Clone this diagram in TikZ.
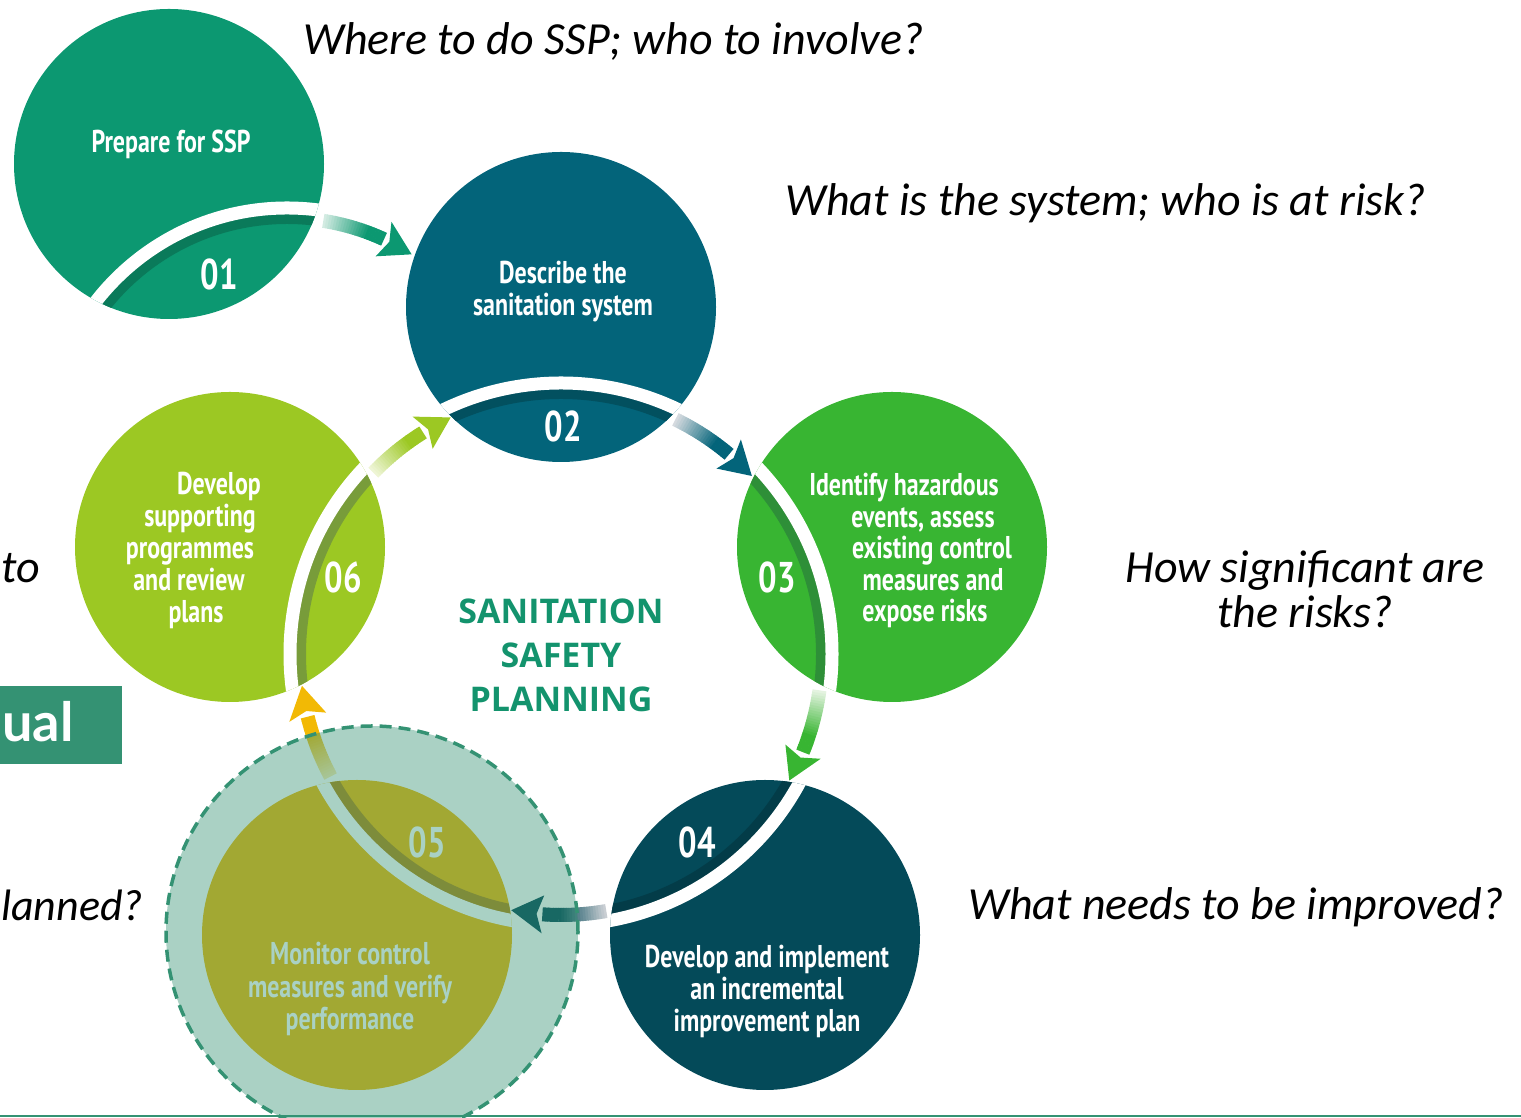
\documentclass[tikz,border=0pt]{standalone}
\usepackage{fontspec}
\setmainfont{Carlito}
\newfontfamily\askfont{Carlito}
\newfontfamily\stepfont[FakeStretch=0.76]{PT Sans}
\newfontfamily\titlefont{Open Sans}
\newfontfamily\tabfont{Lato}
\usetikzlibrary{calc}

% step colours and their darker stripes
\definecolor{c1}{HTML}{0C9871}
\definecolor{c1s}{HTML}{0A7A5A}
\definecolor{c2}{HTML}{03647A}
\definecolor{c2s}{HTML}{02505F}
\definecolor{c3}{HTML}{38B532}
\definecolor{c3s}{HTML}{2E8F38}
\definecolor{c4}{HTML}{044A59}
\definecolor{c4s}{HTML}{033C48}
\definecolor{c5}{HTML}{F2B905}
\definecolor{c5s}{HTML}{B28814}
\definecolor{c6}{HTML}{9CC823}
\definecolor{c6s}{HTML}{789C3A}
% pale tails of the arrows
\definecolor{p1}{HTML}{D3EBE2}
\definecolor{p2}{HTML}{D5DADF}
\definecolor{p3}{HTML}{E4F3E0}
\definecolor{p4}{HTML}{C9CED3}
\definecolor{p5}{HTML}{FBEAB0}
\definecolor{p6}{HTML}{EEF5D5}
\definecolor{ssp}{HTML}{13936D}
\definecolor{veil}{HTML}{349273}

% gradient arrow running clockwise along a circle
% #1 centre, #2 radius, #3 tail angle, #4 tip angle, #5 pale colour, #6 full colour
\newcommand\flowarrow[6]{%
  \pgfmathsetmacro\hd{32/#2*57.2958}%
  \pgfmathsetmacro\hb{#4+\hd}%
  \pgfmathsetmacro\hn{#4+0.8*\hd}%
  \pgfmathsetmacro\ro{#2+19}%
  \pgfmathsetmacro\ri{#2-19}%
  \foreach \k in {0,...,23}{%
    \pgfmathsetmacro\angA{#3+(\hb-(#3))*\k/24}%
    \pgfmathsetmacro\angB{#3+(\hb-(#3))*(\k+1.2)/24}%
    \pgfmathtruncatemacro\pc{min(100,\k*100/17)}%
    \draw[line width=14pt, #6!\pc!#5] ($(#1)+(\angA:#2)$) arc[start angle=\angA, end angle=\angB, radius=#2];
  }%
  \fill[#6] ($(#1)+(\hb:\ro)$) -- ($(#1)+(#4:#2)$) -- ($(#1)+(\hb:\ri)$) -- ($(#1)+(\hn:#2)$) -- cycle;
}

% one step disc, cut by the white band of the cycle
% #1 name, #2 position, #3 colour, #4 stripe colour, #5 band centre, #6 band radius
\newcommand\stepdisc[6]{%
  \node[disc, fill=#3] (#1) at (#2) {};
  \pgfmathsetmacro\rs{#6-11}%
  \begin{scope}
    \clip (#2) circle (155);
    \draw[#4, line width=10pt] (#5) circle (\rs);
    \draw[white, line width=13pt] (#5) circle (#6);
  \end{scope}}

\begin{document}
\begin{tikzpicture}[x=1pt,y=1pt,
  disc/.style={circle, minimum size=310pt, inner sep=0pt, outer sep=0pt},
  steptext/.style={text=white, font=\stepfont\bfseries\fontsize{31.5}{34}\selectfont, anchor=base, inner sep=0pt},
  stepnum/.style={text=white, font=\stepfont\bfseries\fontsize{43}{46}\selectfont, anchor=base, inner sep=0pt},
  ask/.style={font=\askfont\itshape\fontsize{46}{50}\selectfont, inner sep=0pt},
]
\useasboundingbox (0,0) rectangle (1521,1118);
\clip (0,0) rectangle (1521,1118);

\coordinate (O) at (561,464);
\coordinate (P) at (287,668);

% discs
\stepdisc{s1}{169,954}{c1}{c1s}{P}{242}
\stepdisc{s2}{561,811}{c2}{c2s}{O}{271}
\stepdisc{s3}{892,571}{c3}{c3s}{O}{271}
\stepdisc{s4}{765,183}{c4}{c4s}{O}{271}
\stepdisc{s5}{357,183}{c5}{c5s}{O}{271}
\stepdisc{s6}{230,571}{c6}{c6s}{O}{271}

% arrows between the steps
\flowarrow{P}{232}{81}{57.5}{p1}{c1}
\flowarrow{O}{261}{64}{43}{p2}{c2}
\flowarrow{O}{261}{-8}{-29}{p3}{c3}
\flowarrow{O}{261}{-80}{-101}{p4}{c4}
\flowarrow{O}{261}{-152}{-173}{p5}{c5}
\flowarrow{O}{261}{136}{115}{p6}{c6}

% step labels
\node[steptext] (t1) at (171,965) {Prepare for SSP};
\node[stepnum] (n1) at (219,828) {01};

\node[steptext] (t2a) at (563,834) {Describe the};
\node[steptext] (t2b) at (563,802) {sanitation system};
\node[stepnum] (n2) at (563,676) {02};

\node[steptext] (t3a) at (904,622) {Identify hazardous};
\node[steptext] (t3b) at (923,590) {events, assess};
\node[steptext] (t3c) at (932,559) {existing control};
\node[steptext] (t3d) at (933,527) {measures and};
\node[steptext] (t3e) at (925,496) {expose risks};
\node[stepnum] (n3) at (777,525) {03};

\node[stepnum] (n4) at (697,260) {04};
\node[steptext] (t4a) at (767,150) {Develop and implement};
\node[steptext] (t4b) at (767,118) {an incremental};
\node[steptext] (t4c) at (767,86) {improvement plan};

\node[stepnum] (n5) at (427,260) {05};
\node[steptext] (t5a) at (350,153) {Monitor control};
\node[steptext] (t5b) at (350,120) {measures and verify};
\node[steptext] (t5c) at (350,88) {performance};

\node[steptext] (t6a) at (219,623) {Develop};
\node[steptext] (t6b) at (200,591) {supporting};
\node[steptext] (t6c) at (190,559) {programmes};
\node[steptext] (t6d) at (189,527) {and review};
\node[steptext] (t6e) at (196,495) {plans};
\node[stepnum] (n6) at (343,525) {06};

% centre title
\node[font=\titlefont\bfseries\fontsize{34}{44}\selectfont, text=ssp, align=center, inner sep=0pt] (title) at (561,463) {SANITATION\\SAFETY\\PLANNING};

% translucent dashed highlight over step 05
\node[circle, minimum size=412pt, inner sep=0pt, fill=veil, fill opacity=0.42, draw=veil, draw opacity=1, line width=3.5pt, dash pattern=on 12pt off 7pt] (hl) at (372,186) {};

% guiding questions
\node[ask, anchor=base west] (q1) at (303,1063) {Where to do SSP; who to involve?};
\node[ask, anchor=base west] (q2) at (785,902) {What is the system; who is at risk?};
\node[ask, anchor=base] (q3a) at (1305,535) {How significant are};
\node[ask, anchor=base] (q3b) at (1305,490) {the risks?};
\node[ask, anchor=base west] (q4) at (968,198) {What needs to be improved?};
\node[ask, anchor=base west] (q5) at (1,535) {to};
\node[ask, anchor=base west, font=\askfont\itshape\fontsize{44}{50}\selectfont] (q6) at (1,197) {lanned?};

% tab on the left edge
\node[fill=veil, minimum width=122pt, minimum height=78pt, inner sep=0pt, anchor=south west] (tab) at (0,354) {};
\node[font=\tabfont\bfseries\fontsize{54}{60}\selectfont, text=white, anchor=base west, inner sep=0pt] (tabtext) at (2,376) {ual};

% rule along the bottom
\coordinate (b1) at (0,2);
\coordinate (b2) at (1521,2);
\draw[veil, line width=2.5pt] (b1) -- (b2);
\end{tikzpicture}
\end{document}
